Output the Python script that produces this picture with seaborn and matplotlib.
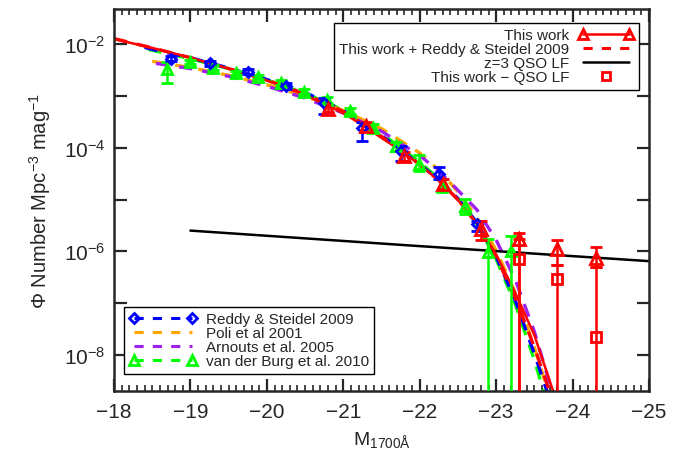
import numpy as np
import pandas as pd
import seaborn as sns
import matplotlib
matplotlib.use("Agg")
import matplotlib.pyplot as plt
from matplotlib.lines import Line2D
from matplotlib.legend_handler import HandlerLine2D
from matplotlib.ticker import FixedLocator, FixedFormatter, MultipleLocator, NullLocator

# ---------------- data (log10 Phi) ----------------
# model curves
this_curve_M = [-18.0, -18.5, -19.0, -19.5, -20.0, -20.5, -21.0, -21.25, -21.5, -21.75,
                -22.0, -22.25, -22.5, -22.75, -23.0, -23.25, -23.5, -23.75]
this_curve_log = [-1.90, -2.07, -2.26, -2.47, -2.70, -2.98, -3.33, -3.56, -3.81, -4.05,
                  -4.33, -4.63, -5.01, -5.46, -6.06, -6.80, -7.62, -8.72]

comb_curve_M = [-18.0, -18.5, -19.0, -19.5, -20.0, -20.5, -21.0, -21.5, -22.0, -22.25,
                -22.5, -22.75, -23.0, -23.25, -23.5, -23.72]
comb_curve_log = [-1.89, -2.07, -2.26, -2.47, -2.69, -2.96, -3.30, -3.78, -4.32, -4.63,
                  -5.00, -5.48, -6.10, -6.90, -7.85, -8.80]

rs_curve_M = [-18.4, -18.5, -19.0, -19.5, -20.0, -20.5, -21.0, -21.25, -21.5, -21.75,
              -22.0, -22.25, -22.5, -22.75, -23.0, -23.25, -23.5, -23.7]
rs_curve_log = [-2.06, -2.10, -2.26, -2.46, -2.68, -2.93, -3.28, -3.52, -3.76, -4.04,
                -4.32, -4.62, -4.98, -5.45, -6.10, -6.95, -7.98, -8.85]

poli_curve_M = [-18.5, -19.0, -19.5, -20.0, -20.5, -21.0, -21.5, -22.0, -22.25, -22.5,
                -22.75, -23.0, -23.25, -23.5, -23.7]
poli_curve_log = [-2.33, -2.45, -2.60, -2.78, -3.00, -3.28, -3.63, -4.10, -4.43, -4.85,
                  -5.35, -5.98, -6.80, -7.85, -8.80]

arn_curve_M = [-18.55, -19.0, -19.5, -20.0, -20.5, -21.0, -21.5, -22.0, -22.25, -22.5,
               -22.75, -23.0, -23.25, -23.5, -23.75]
arn_curve_log = [-2.37, -2.47, -2.62, -2.81, -3.04, -3.33, -3.68, -4.15, -4.45, -4.82,
                 -5.20, -5.78, -6.55, -7.55, -8.80]

vdb_curve_M = [-18.45, -19.0, -19.5, -20.0, -20.5, -21.0, -21.5, -22.0, -22.25, -22.5,
               -22.75, -23.0, -23.25, -23.5, -23.65]
vdb_curve_log = [-2.10, -2.28, -2.47, -2.69, -2.95, -3.27, -3.72, -4.28, -4.60, -4.98,
                 -5.48, -6.15, -7.02, -8.10, -8.85]

qso_curve_M = [-19.0, -22.0, -25.0]
qso_curve_log = [-5.60, -5.90, -6.19]

# data points: This work (triangles)
this_M = [-20.8, -21.3, -21.8, -22.3, -22.8, -23.3, -23.8, -24.3]
this_log = [-3.25, -3.58, -4.16, -4.70, -5.57, -5.76, -5.96, -6.13]
this_lo = [-3.30, -3.65, -4.25, -4.80, -5.78, -9.50, -6.27, -6.31]
this_hi = [-3.20, -3.51, -4.08, -4.61, -5.42, -5.64, -5.78, -5.91]

# This work - QSO LF (squares)
sq_M = [-23.3, -23.8, -24.3]
sq_log = [-6.15, -6.54, -7.66]
sq_lo = [-9.50, -9.50, -9.50]
sq_hi = [-5.76, -6.27, -6.31]

# Reddy & Steidel 2009 (diamonds)
rs_M = [-18.75, -19.25, -19.75, -20.25, -20.75, -21.25, -21.75, -22.25, -22.75]
rs_log = [-2.28, -2.37, -2.53, -2.80, -3.13, -3.61, -4.06, -4.51, -5.47]
rs_lo = [-2.33, -2.42, -2.58, -2.86, -3.35, -3.87, -4.25, -4.61, -5.60]
rs_hi = [-2.23, -2.32, -2.48, -2.74, -3.03, -3.51, -3.96, -4.38, -5.41]

# van der Burg et al. 2010 (triangles)
vdb_M = [-18.69, -18.99, -19.29, -19.59, -19.89, -20.19, -20.49, -20.79, -21.09, -21.39,
         -21.69, -21.99, -22.29, -22.59, -22.89, -23.19]
vdb_log = [-2.48, -2.35, -2.45, -2.55, -2.64, -2.74, -2.92, -3.08, -3.29, -3.62,
           -3.97, -4.32, -4.73, -5.13, -6.02, -5.99]
vdb_lo = [-2.74, -2.39, -2.49, -2.59, -2.68, -2.78, -2.97, -3.14, -3.35, -3.69,
          -4.06, -4.45, -4.85, -5.28, -9.50, -9.50]
vdb_hi = [-2.35, -2.31, -2.41, -2.51, -2.60, -2.70, -2.87, -3.02, -3.23, -3.55,
          -3.89, -4.13, -4.61, -4.98, -5.76, -5.71]

xticks = [-18, -19, -20, -21, -22, -23, -24, -25]
ytick_exps = [-8, -7, -6, -5, -4, -3, -2]

# ---------------- style ----------------
sns.set_style("ticks")
plt.rcParams['font.family'] = ['Liberation Sans', 'DejaVu Sans']
plt.rcParams['mathtext.default'] = 'regular'
plt.rcParams['axes.linewidth'] = 1.8

RED = '#ff0000'
BLUE = '#0000ff'
GREEN = '#00ff00'
ORANGE = '#ffa500'
PURPLE = '#a020f0'

fig, ax = plt.subplots(figsize=(6.89, 4.64), dpi=100)
fig.subplots_adjust(left=114/689, right=649/689, bottom=1-392/464, top=1-10/464)
ax.set_yscale('log')

def P(v):
    return np.power(10.0, np.asarray(v, dtype=float))

dash = (4, 3)
# dashed model curves
for Ms, ls_, col in [(vdb_curve_M, vdb_curve_log, GREEN),
                     (poli_curve_M, poli_curve_log, ORANGE),
                     (arn_curve_M, arn_curve_log, PURPLE),
                     (rs_curve_M, rs_curve_log, BLUE),
                     (comb_curve_M, comb_curve_log, RED)]:
    df = pd.DataFrame({'M': Ms, 'phi': P(ls_)})
    sns.lineplot(data=df, x='M', y='phi', ax=ax, color=col, lw=2.4,
                 dashes=False, sort=False, estimator=None, linestyle=(0, dash))

# QSO LF
sns.lineplot(x=qso_curve_M, y=P(qso_curve_log), ax=ax, color='black', lw=1.8,
             sort=False, estimator=None)
# This work curve
sns.lineplot(x=this_curve_M, y=P(this_curve_log), ax=ax, color=RED, lw=1.8,
             sort=False, estimator=None)

def eb(Ms, lg, lo, hi, col, marker, ms, capsize=4, zorder=4):
    y = P(lg)
    yerr = [y - P(lo), P(hi) - y]
    ax.errorbar(Ms, y, yerr=yerr, fmt=marker, color=col, mfc='none', mec=col,
                mew=2.0, ms=ms, elinewidth=1.8, capsize=capsize, capthick=1.8,
                zorder=zorder, clip_on=True)

eb(vdb_M, vdb_log, vdb_lo, vdb_hi, GREEN, '^', 7)
eb(rs_M, rs_log, rs_lo, rs_hi, BLUE, 'D', 5.5)
eb(sq_M, sq_log, sq_lo, sq_hi, RED, 's', 6.5, capsize=4)
eb(this_M, this_log, this_lo, this_hi, RED, '^', 8)

# ---------------- axes ----------------
ax.set_xlim(-18, -25)
ax.set_ylim(2e-9, 4.8e-2)
ax.xaxis.set_major_locator(FixedLocator(xticks))
ax.xaxis.set_major_formatter(FixedFormatter(['\u2212' + str(abs(t)) for t in xticks]))
ax.xaxis.set_minor_locator(MultipleLocator(0.1))
ax.yaxis.set_major_locator(FixedLocator([10.0**e for e in ytick_exps]))
ax.yaxis.set_major_formatter(FixedFormatter(
    ['$10^{%d}$' % e if e % 2 == 0 else '' for e in ytick_exps]))
ax.yaxis.set_minor_locator(NullLocator())
ax.tick_params(which='both', direction='in', top=True, right=True)
ax.tick_params(which='major', length=9, width=1.6, labelsize=15, pad=8)
ax.tick_params(which='minor', length=4, width=1.2)
ax.tick_params(axis='y', which='major', pad=6)

ax.set_xlabel('M$_{1700\u00c5}$', fontsize=14, labelpad=6)
ax.set_ylabel('\u03a6 Number Mpc$^{-3}$ mag$^{-1}$', fontsize=14.5, labelpad=8)

# ---------------- legends ----------------
h_this = Line2D([], [], color=RED, lw=1.8, marker='^', mfc='none', mec=RED, mew=2, ms=7)
h_comb = Line2D([], [], color=RED, lw=2.2, linestyle=(0, (3, 3)))
h_qso = Line2D([], [], color='black', lw=1.8)
h_sq = Line2D([], [], color=RED, lw=0, marker='s', mfc='none', mec=RED, mew=2, ms=6)
leg1 = ax.legend([h_this, h_comb, h_qso, h_sq],
                 ['This work', 'This work + Reddy & Steidel 2009', 'z=3 QSO LF',
                  'This work \u2212 QSO LF'],
                 loc='upper right', bbox_to_anchor=(0.981, 0.963), borderaxespad=0,
                 markerfirst=False, numpoints=2, fontsize=11, handlelength=3.6,
                 labelspacing=0.0, handletextpad=0.6, borderpad=0.35,
                 frameon=True, fancybox=False, framealpha=1, edgecolor='black',
                 handler_map={h_sq: HandlerLine2D(numpoints=1)})
leg1.get_frame().set_linewidth(1.0)
ax.add_artist(leg1)

h_rs = Line2D([], [], color=BLUE, lw=2.2, linestyle=(0, (3, 3)), marker='D', mfc='none',
              mec=BLUE, mew=2, ms=5.5)
h_poli = Line2D([], [], color=ORANGE, lw=2.2, linestyle=(0, (3, 3)))
h_arn = Line2D([], [], color=PURPLE, lw=2.2, linestyle=(0, (3, 3)))
h_vdb = Line2D([], [], color=GREEN, lw=2.2, linestyle=(0, (3, 3)), marker='^', mfc='none',
               mec=GREEN, mew=2, ms=7)
leg2 = ax.legend([h_rs, h_poli, h_arn, h_vdb],
                 ['Reddy & Steidel 2009', 'Poli et al 2001', 'Arnouts et al. 2005',
                  'van der Burg et al. 2010'],
                 loc='lower left', bbox_to_anchor=(0.019, 0.045), borderaxespad=0,
                 numpoints=2, fontsize=11, handlelength=4.4,
                 labelspacing=0.0, handletextpad=0.6, borderpad=0.35,
                 frameon=True, fancybox=False, framealpha=1, edgecolor='black')
leg2.get_frame().set_linewidth(1.0)

fig.savefig('out.png', dpi=100)
